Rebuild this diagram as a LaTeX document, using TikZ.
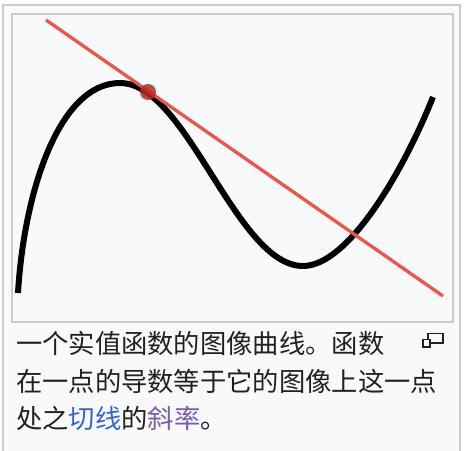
\documentclass[tikz,border=0pt]{standalone}
\usepackage{fontspec}
\newfontfamily\cjk{Noto Sans CJK SC}
\definecolor{pagebg}{HTML}{FFFFFF}
\definecolor{boxbg}{HTML}{F8F9FA}
\definecolor{boxbd}{HTML}{C8CCD1}
\definecolor{txt}{HTML}{202122}
\definecolor{lnk}{HTML}{3366CC}
\definecolor{vis}{HTML}{795CB2}
\definecolor{tanred}{HTML}{EC5649}
\definecolor{dotred}{HTML}{B52A22}
\tikzset{
  frame/.style={draw=boxbd, fill=boxbg, line width=2pt},
  graphcurve/.style={draw=black, line width=6pt, line cap=butt},
  tangentline/.style={draw=tanred, line width=3.3pt, line cap=butt},
  caption/.style={anchor=west, inner sep=0pt, text=txt, font=\cjk\fontsize{26.3}{37.5}\selectfont, text height=0.88em, text depth=0.12em},
  iconbox/.style={draw=txt, line width=1.3pt}
}
\begin{document}
\begin{tikzpicture}[x=1pt,y=-1pt]
\useasboundingbox (0,0) rectangle (466,450);
\clip (0,0) rectangle (466,450);
\fill[pagebg] (0,0) rectangle (466,450);
\path[frame] (3,5) rectangle (460,460);
\path[frame] (12,14) rectangle (453,322);
% curve
\coordinate (c0) at (18,293);
\coordinate (cmax) at (120,83);
\coordinate (cmin) at (303,266);
\coordinate (c1) at (433,97);
\draw[graphcurve] (c0) .. controls (24,192) and (59,83) .. (cmax)
  .. controls (187,83) and (236,266) .. (cmin)
  .. controls (348,266) and (403,172) .. (c1);
% tangent line
\coordinate (tA) at (46,20);
\coordinate (tB) at (443,296);
\draw[tangentline] (tA) -- (tB);
\coordinate (pt) at (148,92);
\fill[dotred, opacity=0.85] (pt) circle (8);
% caption
\node[caption] (l1) at (16,350) {一个实值函数的图像曲线。函数};
\node[caption] (l2) at (16,388) {在一点的导数等于它的图像上这一点};
\node[caption] (l3) at (16,425) {处之\textcolor{lnk}{切线}的\textcolor{vis}{斜率}。};
% magnify icon
\draw[iconbox, fill=boxbg] (428,333.5) rectangle (443,343);
\draw[iconbox, fill=boxbg] (423,339.5) rectangle (430,347);
\end{tikzpicture}
\end{document}
